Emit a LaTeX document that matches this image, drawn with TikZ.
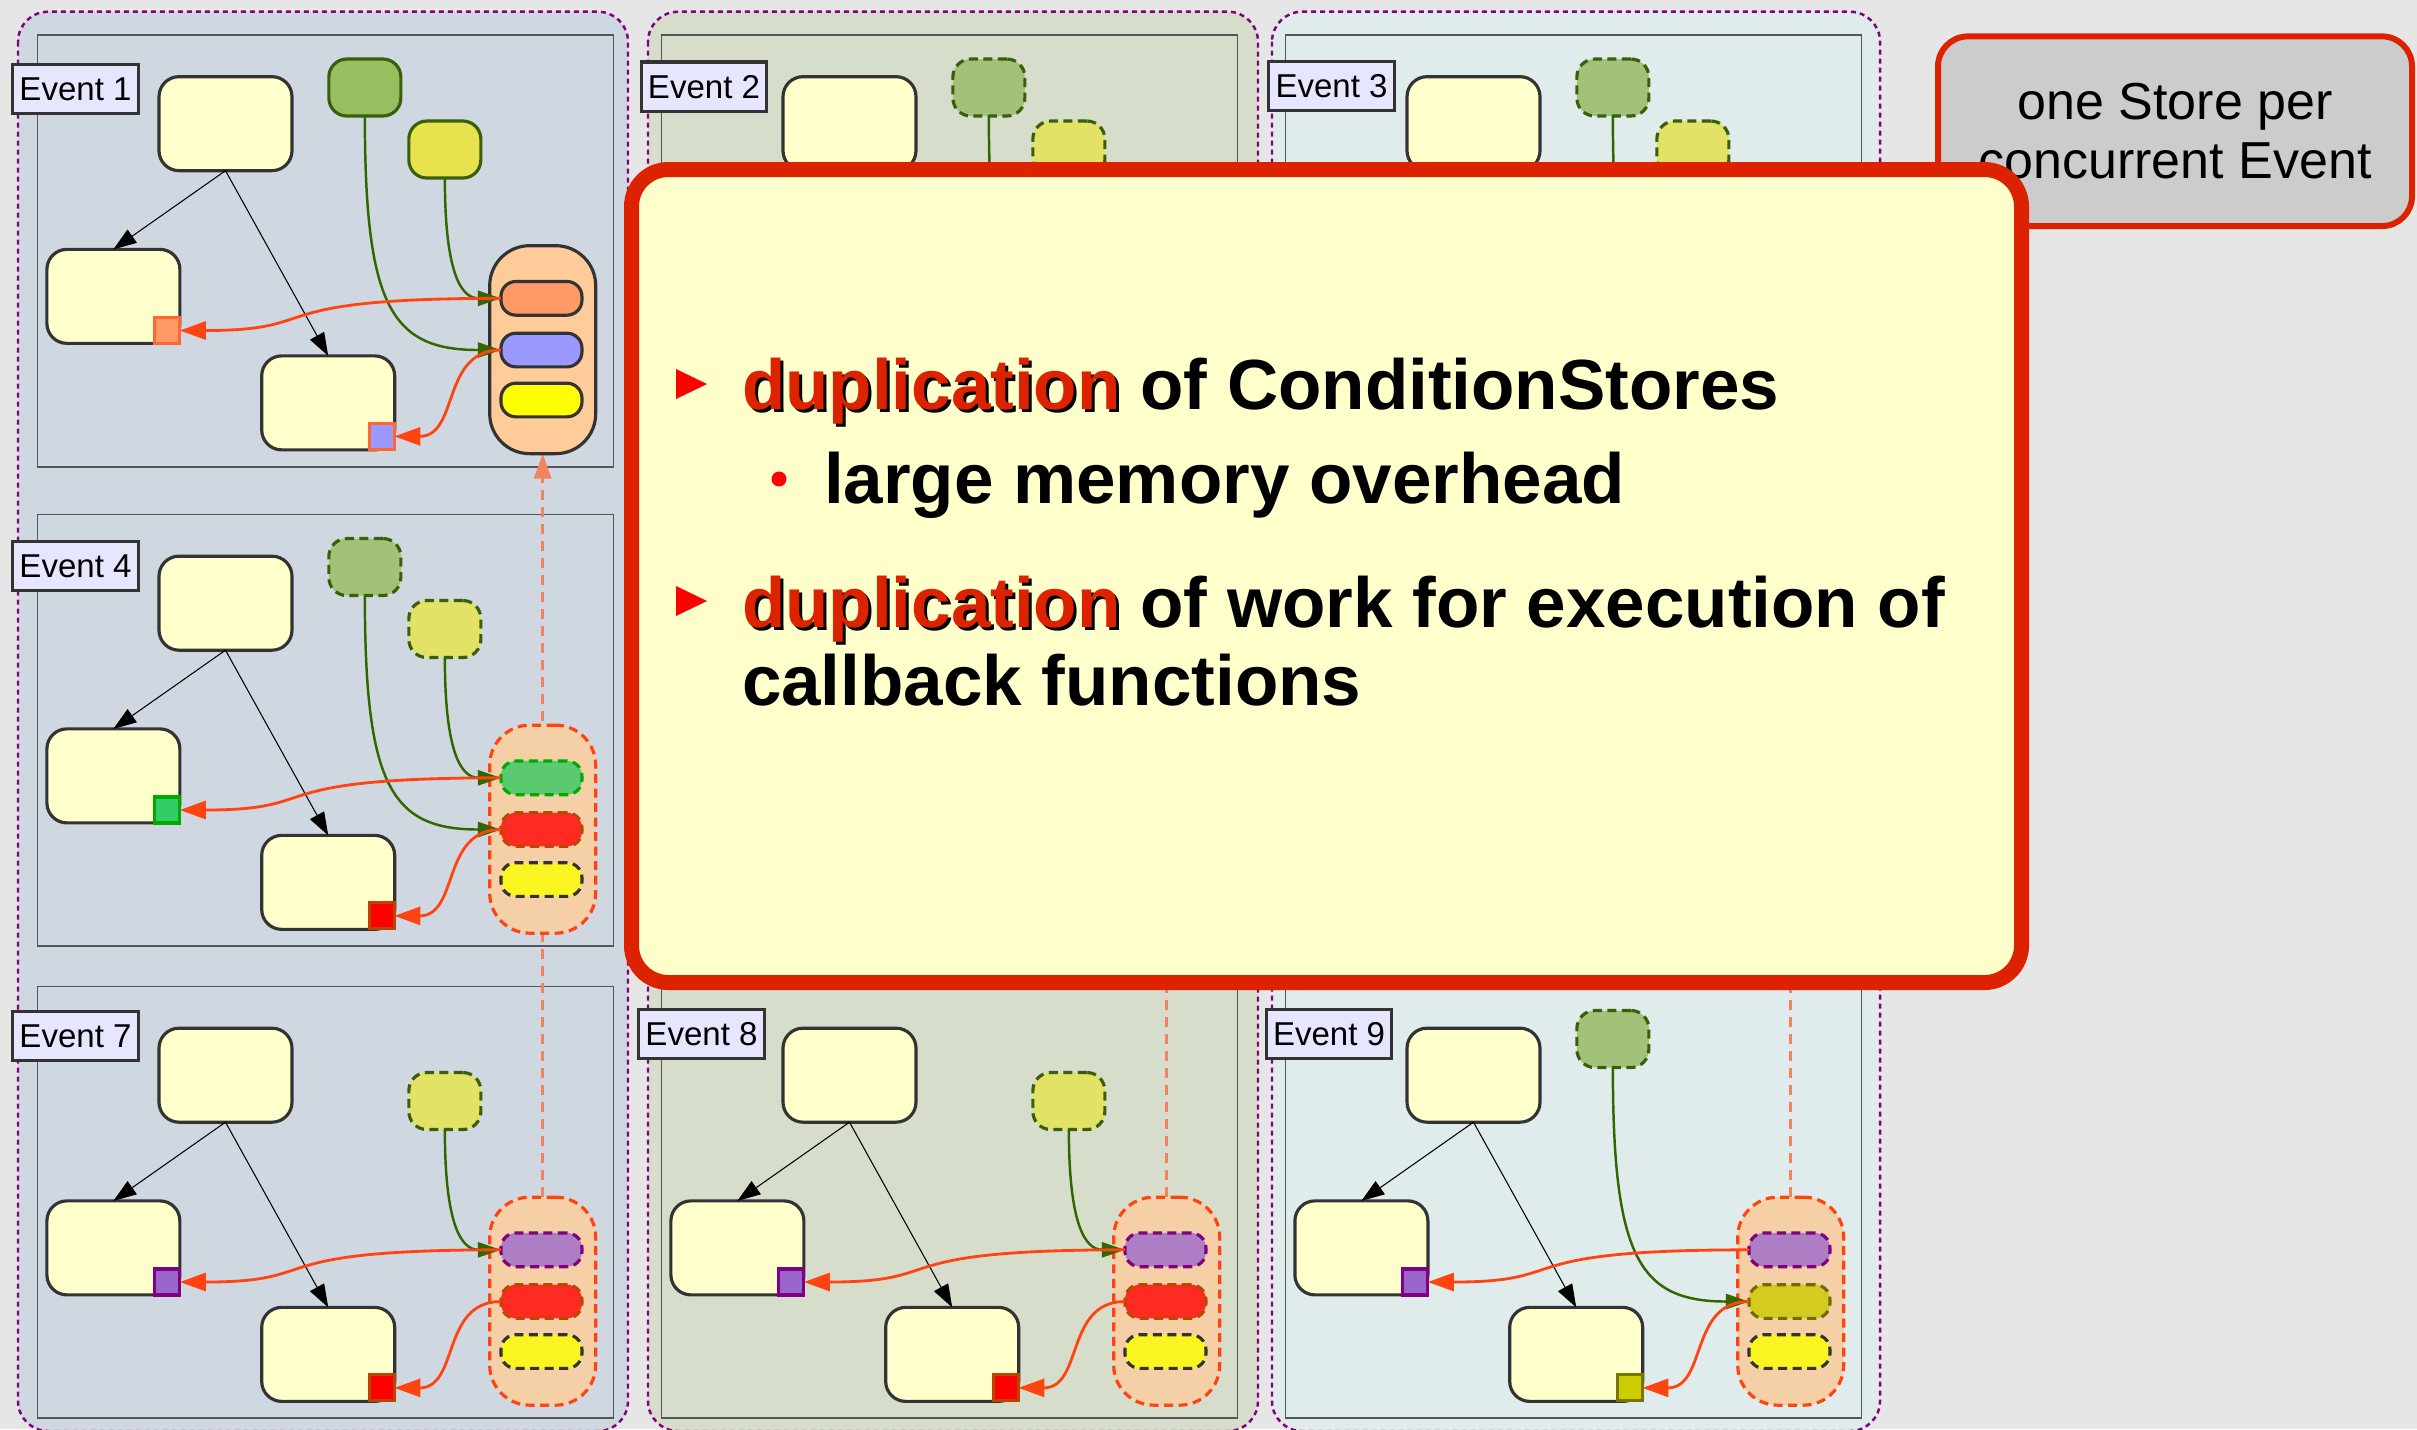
\documentclass[tikz,border=0pt]{standalone}
\usepackage{fontspec}
\setmainfont{Liberation Sans}
\usetikzlibrary{arrows.meta}

% page and columns
\definecolor{pagebg}{HTML}{E6E6E6}
\definecolor{colA}{HTML}{CFD7E1}
\definecolor{colB}{HTML}{D6DDCB}
\definecolor{colC}{HTML}{E0EBEB}
\definecolor{framegray}{HTML}{555555}
\definecolor{colpurple}{HTML}{800080}
% event content
\definecolor{boxfill}{HTML}{FFFFCC}
\definecolor{boxline}{HTML}{333333}
\definecolor{labfill}{HTML}{E6E6FF}
\definecolor{condline}{HTML}{3A5F0B}
\definecolor{grnA}{HTML}{97BE5F}
\definecolor{ylwA}{HTML}{E6E34E}
\definecolor{grnB}{HTML}{A2C279}
\definecolor{ylwB}{HTML}{E1E266}
\definecolor{depgreen}{HTML}{336600}
\definecolor{cbred}{HTML}{FF4411}
\definecolor{coral}{HTML}{F2835F}
\definecolor{storeFillA}{HTML}{FFCC99}
\definecolor{storeFillB}{HTML}{F5CFA6}
\definecolor{itOrange}{HTML}{FF9966}
\definecolor{itBlue}{HTML}{9999FF}
\definecolor{itYellowA}{HTML}{FFFF00}
\definecolor{itGreen}{HTML}{5BC970}
\definecolor{itGreenLine}{HTML}{00AA00}
\definecolor{itRed}{HTML}{FF2A22}
\definecolor{itRedLine}{HTML}{B84A00}
\definecolor{itYellow}{HTML}{FAF520}
\definecolor{itPurple}{HTML}{AE7EC4}
\definecolor{itOlive}{HTML}{D4CA20}
\definecolor{itOliveLine}{HTML}{6E6E00}
\definecolor{sqOrangeLine}{HTML}{FF6633}
\definecolor{sqGreen}{HTML}{33CC66}
\definecolor{sqRed}{HTML}{FF0000}
\definecolor{sqRedLine}{HTML}{BB4400}
\definecolor{sqPurple}{HTML}{9966CC}
\definecolor{sqOlive}{HTML}{CCCC00}
\definecolor{sqOliveLine}{HTML}{777700}
% overlays
\definecolor{calred}{HTML}{DD2200}
\definecolor{notegray}{HTML}{CCCCCC}
\definecolor{bulletred}{HTML}{FF0000}

\pgfdeclarelayer{bg}
\pgfdeclarelayer{mid}
\pgfsetlayers{bg,mid,main}

\tikzset{
  every node/.style={inner sep=0pt, outer sep=0pt},
  dsh/.style={dash pattern=on 0.9mm off 0.55mm},
  column/.style={draw=colpurple, line width=0.7pt, dash pattern=on 0.5mm off 0.4mm, rounded corners=3mm},
  frame/.style={draw=framegray, line width=0.45pt},
  evbox/.style={draw=boxline, fill=boxfill, line width=0.9pt, rounded corners=2mm,
    minimum width=13.3mm, minimum height=9.4mm},
  evlabel/.style={draw=boxline, fill=labfill, line width=0.9pt,
    minimum width=12.55mm, minimum height=4.93mm, font=\fontsize{9.4pt}{11pt}\selectfont},
  cond/.style={line width=0.9pt, rounded corners=1.8mm, minimum width=7.2mm, minimum height=5.7mm, draw=condline},
  srcGreenA/.style={cond, fill=grnA},
  srcYellowA/.style={cond, fill=ylwA},
  srcGreenB/.style={cond, dsh, fill=grnB},
  srcYellowB/.style={cond, dsh, fill=ylwB},
  store/.style={line width=0.9pt, rounded corners=4mm, minimum width=10.6mm, minimum height=20.8mm},
  storeA/.style={fill=storeFillA, draw=boxline},
  storeB/.style={dsh, fill=storeFillB, draw=cbred},
  item/.style={line width=0.9pt, rounded corners=1.5mm, minimum width=8.1mm, minimum height=3.37mm},
  itemOrange/.style={fill=itOrange, draw=boxline},
  itemBlue/.style={fill=itBlue, draw=boxline},
  itemYellowA/.style={fill=itYellowA, draw=boxline},
  itemGreen/.style={dsh, fill=itGreen, draw=itGreenLine},
  itemRed/.style={dsh, fill=itRed, draw=itRedLine},
  itemYellow/.style={dsh, fill=itYellow, draw=boxline},
  itemPurple/.style={dsh, fill=itPurple, draw=colpurple},
  itemOlive/.style={dsh, fill=itOlive, draw=itOliveLine},
  sq/.style={line width=0.9pt, minimum width=2.5mm, minimum height=2.6mm},
  sqOrange/.style={fill=itOrange, draw=sqOrangeLine},
  sqBlue/.style={fill=itBlue, draw=sqOrangeLine},
  sqGreenS/.style={fill=sqGreen, draw=itGreenLine},
  sqRedS/.style={fill=sqRed, draw=sqRedLine},
  sqPurpleS/.style={fill=sqPurple, draw=colpurple},
  sqOliveS/.style={fill=sqOlive, draw=sqOliveLine},
  flow/.style={draw=black, line width=0.3pt, -{Triangle[length=2.3mm,width=1.6mm]}},
  dep/.style={draw=depgreen, line width=0.7pt, -{Triangle[length=2.3mm,width=1.5mm]}},
  cb/.style={draw=cbred, line width=0.8pt, -{Triangle[length=2.6mm,width=1.8mm]}},
  copyline/.style={draw=coral, line width=0.9pt, dash pattern=on 1mm off 0.7mm,
    -{Triangle[length=2.5mm,width=1.7mm]}},
  callout/.style={draw=calred, fill=boxfill, line width=1.5mm, rounded corners=3.7mm,
    minimum width=139mm, minimum height=81.3mm},
  notebox/.style={draw=calred, fill=notegray, line width=1.7pt, rounded corners=3mm,
    minimum width=47.4mm, minimum height=18.97mm, align=center,
    font=\fontsize{14.8pt}{16.8pt}\selectfont},
  bigtxt/.style={font=\fontsize{20.2pt}{24pt}\selectfont\bfseries, text=black},
}

% red keyword with a dark drop shadow
\newcommand\shadowword[1]{%
  \rlap{\kern0.3mm\raisebox{-0.3mm}{\textcolor{black}{#1}}}\textcolor{calred}{#1}}

% frame, label, the three algorithm boxes and their data flow
\newcommand\evcommon[3]{%
  \begin{pgfonlayer}{bg}
    \draw[frame] (37.3,35) rectangle (613.6,466.7);
  \end{pgfonlayer}
  \node[evbox] (#1top) at (225.5,123.65) {};
  \node[evbox] (#1left) at (113.4,296.35) {};
  \node[evbox] (#1bot) at (328.2,402.85) {};
  \draw[flow] (#1top.south) -- (#1left.north);
  \draw[flow] (#1top.south) -- (#1bot.north);
  \node[evlabel] (#1lab) at (#3) {#2};
}
% condition store with its three slots
\newcommand\evstore[5]{%
  \node[store,#2] (#1st) at (542.7,349.65) {};
  \node[item,#3] (#1i1) at (541.45,298.3) {};
  \node[item,#4] (#1i2) at (541.45,350) {};
  \node[item,#5] (#1i3) at (541.45,400) {};
}
% condition handles on the algorithms, fed by callbacks from the store
\newcommand\evsquares[3]{%
  \node[sq,#2] (#1sq1) at (167.3,330.5) {};
  \node[sq,#3] (#1sq2) at (381.85,436.35) {};
  \draw[cb] (#1i1.west) .. controls +(-250,0) and +(150,0) .. (#1sq1.east);
  \draw[cb] (#1i2.west) .. controls +(-60,0) and +(65,0) .. (#1sq2.east);
}
\newcommand\greensrc[2]{%
  \node[#2] (#1g) at (364.85,87.5) {};
  \draw[dep] (#1g.south) .. controls +(0,190) and +(-110,0) .. (#1i2.west);
}
\newcommand\yellowsrc[2]{%
  \node[#2] (#1y) at (444.85,149.5) {};
  \draw[dep] (#1y.south) .. controls +(0,95) and +(-40,0) .. (#1i1.west);
}

\begin{document}
\begin{tikzpicture}[x=0.1mm, y=-0.1mm]
\useasboundingbox (0,0) rectangle (2417,1429);
\begin{pgfonlayer}{bg}
  \fill[pagebg] (0,0) rectangle (2417,1429);
  \draw[column, fill=colA] (18,11.7) rectangle (628,1431);
  \draw[column, fill=colB] (648,11.7) rectangle (1258,1431);
  \draw[column, fill=colC] (1272,11.7) rectangle (1880,1431);
\end{pgfonlayer}

% ---- Event 1
\begin{scope}
  \evcommon{e1}{Event 1}{75.5,88.8}
  \evstore{e1}{storeA}{itemOrange}{itemBlue}{itemYellowA}
  \greensrc{e1}{srcGreenA}
  \yellowsrc{e1}{srcYellowA}
  \evsquares{e1}{sqOrange}{sqBlue}
\end{scope}
% ---- Event 2
\begin{scope}[shift={(624,0)}]
  \evcommon{e2}{Event 2}{80,86.7}
  \evstore{e2}{storeB}{itemGreen}{itemRed}{itemYellow}
  \greensrc{e2}{srcGreenB}
  \yellowsrc{e2}{srcYellowB}
  \evsquares{e2}{sqGreenS}{sqRedS}
\end{scope}
% ---- Event 3
\begin{scope}[shift={(1248,0)}]
  \evcommon{e3}{Event 3}{83.5,86}
  \evstore{e3}{storeB}{itemGreen}{itemRed}{itemYellow}
  \greensrc{e3}{srcGreenB}
  \yellowsrc{e3}{srcYellowB}
  \evsquares{e3}{sqGreenS}{sqRedS}
\end{scope}
% ---- Event 4
\begin{scope}[shift={(0,479.5)}]
  \evcommon{e4}{Event 4}{75.5,86.4}
  \evstore{e4}{storeB}{itemGreen}{itemRed}{itemYellow}
  \greensrc{e4}{srcGreenB}
  \yellowsrc{e4}{srcYellowB}
  \evsquares{e4}{sqGreenS}{sqRedS}
\end{scope}
% ---- Event 7
\begin{scope}[shift={(0,951.5)}]
  \evcommon{e7}{Event 7}{75.5,84.4}
  \evstore{e7}{storeB}{itemPurple}{itemRed}{itemYellow}
  \yellowsrc{e7}{srcYellowB}
  \evsquares{e7}{sqPurpleS}{sqRedS}
\end{scope}
% ---- Event 8
\begin{scope}[shift={(624,951.5)}]
  \evcommon{e8}{Event 8}{77.5,82.4}
  \evstore{e8}{storeB}{itemPurple}{itemRed}{itemYellow}
  \yellowsrc{e8}{srcYellowB}
  \evsquares{e8}{sqPurpleS}{sqRedS}
\end{scope}
% ---- Event 9
\begin{scope}[shift={(1248,951.5)}]
  \evcommon{e9}{Event 9}{81,82.4}
  \evstore{e9}{storeB}{itemPurple}{itemOlive}{itemYellow}
  \greensrc{e9}{srcGreenB}
  \evsquares{e9}{sqPurpleS}{sqOliveS}
\end{scope}

% store copies running up each column
\begin{pgfonlayer}{mid}
  \draw[copyline] (e7st.north) -- (e1st.south);
  \draw[copyline] (e8st.north) -- (e2st.south);
  \draw[copyline] (e9st.north) -- (e3st.south);
\end{pgfonlayer}

% side note
\node[notebox] (perstore) at (2175,131.2) {one Store per\\concurrent Event};

% summary panel
\node[callout] (note) at (1326.5,576) {};
\fill[bulletred] (676,369) -- (676,399) -- (707,384) -- cycle;
\node[bigtxt, anchor=base west] (dupA) at (742,409.5) {\shadowword{duplication} of ConditionStores};
\fill[bulletred] (779,479) circle[radius=0.75mm];
\node[bigtxt, anchor=base west] (memo) at (824,503) {large memory overhead};
\fill[bulletred] (676,586) -- (676,616) -- (707,601) -- cycle;
\node[bigtxt, anchor=base west] (dupB) at (742,627) {\shadowword{duplication} of work for execution of};
\node[bigtxt, anchor=base west] (cbfun) at (742,705) {callback functions};
\end{tikzpicture}
\end{document}
